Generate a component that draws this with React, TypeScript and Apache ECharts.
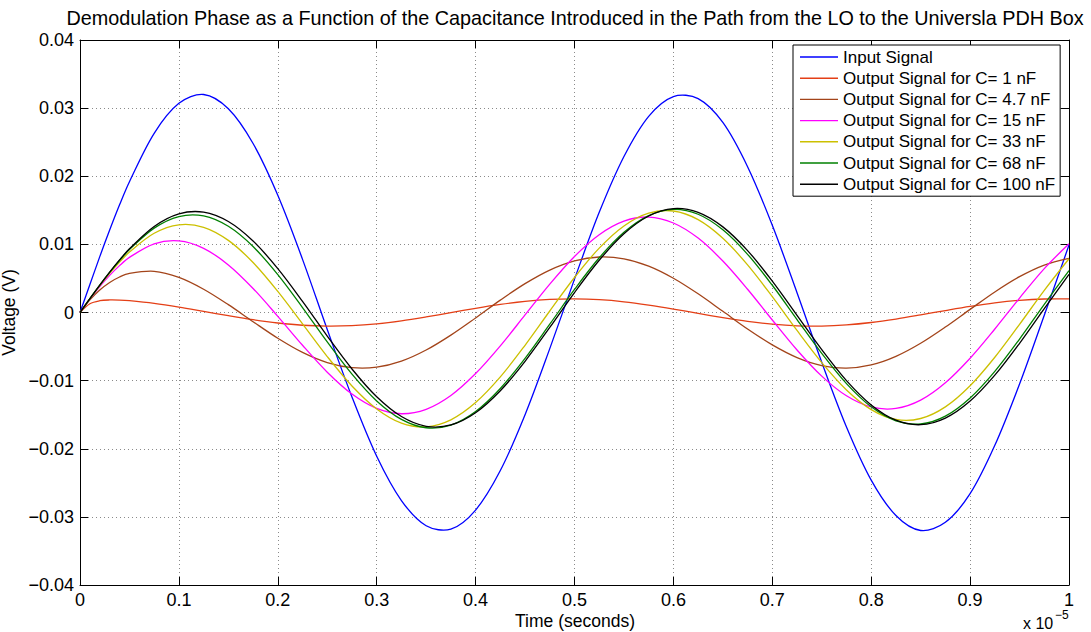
import React, { useEffect, useRef } from "react";
import * as echarts from "echarts";

// Time axis samples (units of 1e-5 s)
const timeValues = [
  0, 0.01, 0.02, 0.03, 0.04, 0.05, 0.075, 0.1, 0.125, 0.15, 0.175, 0.2, 0.225, 0.25, 0.275, 0.3,
  0.325, 0.35, 0.375, 0.4, 0.425, 0.45, 0.475, 0.5, 0.525, 0.55, 0.575, 0.6, 0.625, 0.65, 0.675,
  0.7, 0.725, 0.75, 0.775, 0.8, 0.825, 0.85, 0.875, 0.9, 0.925, 0.95, 0.975, 1.0,
];

const inputSignal = [
  0, 0.0041, 0.0082, 0.0121, 0.0158, 0.0192, 0.0263, 0.0307, 0.032, 0.0299, 0.0248, 0.0172, 0.0078,
  -0.0025, -0.0124, -0.0211, -0.0276, -0.0313, -0.0318, -0.029, -0.0232, -0.015, -0.0053, 0.0049,
  0.0147, 0.0229, 0.0288, 0.0317, 0.0314, 0.0279, 0.0214, 0.0128, 0.0029, -0.0073, -0.0168, -0.0246,
  -0.0298, -0.032, -0.0308, -0.0266, -0.0195, -0.0105, -0.0004, 0.0099,
];

const outC1 = [
  0, 0.00129, 0.00173, 0.00184, 0.00182, 0.00173, 0.00134, 0.0008, 0.00017, -0.00047, -0.00106,
  -0.00154, -0.00187, -0.002, -0.00193, -0.00166, -0.00122, -0.00065, -0.00002, 0.00062, 0.00119,
  0.00164, 0.00192, 0.002, 0.00188, 0.00157, 0.00109, 0.00051, -0.00014, -0.00076, -0.00131,
  -0.00172, -0.00196, -0.00199, -0.00182, -0.00147, -0.00096, -0.00035, 0.00029, 0.0009, 0.00142,
  0.00179, 0.00198, 0.00199,
];

const outC4_7 = [
  0, 0.00185, 0.0033, 0.00441, 0.00521, 0.00574, 0.00604, 0.00516, 0.00342, 0.00115, -0.00135,
  -0.00378, -0.00586, -0.00735, -0.0081, -0.00803, -0.00714, -0.00551, -0.00332, -0.0008, 0.00182,
  0.00424, 0.00623, 0.00758, 0.00815, 0.00788, 0.00681, 0.00503, 0.00274, 0.00017, -0.00242,
  -0.00476, -0.00662, -0.00779, -0.00816, -0.0077, -0.00644, -0.00452, -0.00214, 0.00046, 0.00302,
  0.00526, 0.00696, 0.00795,
];

const outC15 = [
  0, 0.00199, 0.00381, 0.00545, 0.00688, 0.00809, 0.01008, 0.01051, 0.00942, 0.00699, 0.00353,
  -0.00056, -0.00481, -0.00876, -0.01197, -0.01408, -0.01486, -0.01421, -0.01218, -0.00896,
  -0.00489, -0.00036, 0.00417, 0.00823, 0.01142, 0.01341, 0.01401, 0.01314, 0.01092, 0.00755,
  0.00341, -0.0011, -0.0055, -0.00934, -0.01223, -0.01387, -0.01408, -0.01286, -0.01031, -0.00671,
  -0.00242, 0.00212, 0.00644, 0.01009,
];

const outC33 = [
  0, 0.00202, 0.00395, 0.00575, 0.0074, 0.00887, 0.01163, 0.01287, 0.01251, 0.01059, 0.00734,
  0.0031, -0.00167, -0.00647, -0.01078, -0.01415, -0.01623, -0.01678, -0.01575, -0.01322, -0.00945,
  -0.00481, 0.00022, 0.00514, 0.00945, 0.01271, 0.01459, 0.0149, 0.01363, 0.01089, 0.00699,
  0.00232, -0.00264, -0.00736, -0.01137, -0.01425, -0.0157, -0.01556, -0.01385, -0.01075, -0.00657,
  -0.00174, 0.00325, 0.00789,
];

const outC68 = [
  0, 0.00204, 0.00401, 0.00589, 0.00764, 0.00924, 0.01239, 0.01409, 0.01418, 0.01265, 0.00968,
  0.00556, 0.00073, -0.00432, -0.00905, -0.01298, -0.01569, -0.01692, -0.01652, -0.01453, -0.01115,
  -0.00673, -0.00172, 0.00338, 0.00803, 0.01178, 0.01423, 0.01514, 0.01442, 0.01214, 0.00854,
  0.004, -0.00103, -0.00601, -0.01044, -0.01385, -0.0159, -0.01637, -0.01522, -0.01255, -0.00864,
  -0.0039, 0.0012, 0.00614,
];

const outC100 = [
  0, 0.00204, 0.00403, 0.00593, 0.00772, 0.00935, 0.01263, 0.01448, 0.01473, 0.01335, 0.01049,
  0.00644, 0.00163, -0.00346, -0.00829, -0.01237, -0.01527, -0.0167, -0.01651, -0.01471, -0.01148,
  -0.00716, -0.00219, 0.00293, 0.00767, 0.01155, 0.01416, 0.01525, 0.0147, 0.01257, 0.00909,
  0.0046, -0.00042, -0.00546, -0.01, -0.01357, -0.01581, -0.01647, -0.0155, -0.013, -0.0092,
  -0.00452, 0.00058, 0.00558,
];

const seriesNames = [
  "Input Signal",
  "Output Signal for C= 1 nF",
  "Output Signal for C= 4.7 nF",
  "Output Signal for C= 15 nF",
  "Output Signal for C= 33 nF",
  "Output Signal for C= 68 nF",
  "Output Signal for C= 100 nF",
];
const seriesValues = [inputSignal, outC1, outC4_7, outC15, outC33, outC68, outC100];
const seriesColors = ["#0000FF", "#E43F16", "#A3441A", "#FF00FF", "#CCC000", "#008000", "#000000"];

const titleText =
  "Demodulation Phase as a Function of the Capacitance Introduced in the Path from the LO to the Universla PDH Box";
const xAxisName = "Time (seconds)";
const yAxisName = "Voltage (V)";

const FONT = "'Liberation Sans', Arial, Helvetica, sans-serif";

export default function App() {
  const ref = useRef<HTMLDivElement>(null);
  useEffect(() => {
    if (!ref.current) return;
    const chart = echarts.init(ref.current, undefined, { renderer: "svg" });

    const fmtY = (v: number) => {
      if (Math.abs(v) < 1e-9) return "0";
      const s = Math.abs(v).toFixed(2);
      return v < 0 ? "\u2212" + s : s;
    };
    const fmtX = (v: number) => {
      if (Math.abs(v) < 1e-9) return "0";
      if (Math.abs(v - 1) < 1e-9) return "1";
      return v.toFixed(1);
    };

    const axisLine = { show: true, onZero: false, lineStyle: { color: "#000", width: 1 } };
    const axisTick = { show: true, inside: true, length: 8, lineStyle: { color: "#000", width: 1 } };
    const split = { show: true, lineStyle: { color: "#8a8a8a", width: 1, type: [1, 3] } };
    const labelStyle = { color: "#000", fontSize: 18, fontFamily: FONT };

    chart.setOption({
      animation: false,
      backgroundColor: "#fff",
      grid: {
        left: 80,
        top: 40,
        width: 989,
        height: 545,
        show: false,
        containLabel: false,
        outerBoundsMode: "none",
      },
      xAxis: [
        {
          type: "value",
          min: 0,
          max: 1,
          interval: 0.1,
          position: "bottom",
          axisLine,
          axisTick,
          splitLine: split,
          axisLabel: { ...labelStyle, margin: 6, formatter: fmtX },
        },
        {
          type: "value",
          min: 0,
          max: 1,
          interval: 0.1,
          position: "top",
          axisLine,
          axisTick,
          splitLine: { show: false },
          axisLabel: { show: false },
        },
      ],
      yAxis: [
        {
          type: "value",
          min: -0.04,
          max: 0.04,
          interval: 0.01,
          position: "left",
          axisLine,
          axisTick,
          splitLine: split,
          axisLabel: { ...labelStyle, margin: 6, formatter: fmtY },
          name: yAxisName,
          nameLocation: "middle",
          nameGap: 56,
          nameRotate: 90,
          nameTextStyle: { color: "#000", fontSize: 17.5, fontFamily: FONT },
        },
        {
          type: "value",
          min: -0.04,
          max: 0.04,
          interval: 0.01,
          position: "right",
          axisLine,
          axisTick,
          splitLine: { show: false },
          axisLabel: { show: false },
        },
      ],
      legend: {
        data: seriesNames,
        orient: "vertical",
        left: 793,
        top: 45,
        icon: "rect",
        itemWidth: 38,
        itemHeight: 1.4,
        itemGap: 3.2,
        padding: [3, 5, 3, 7],
        borderColor: "#000",
        borderWidth: 1,
        borderRadius: 0,
        backgroundColor: "#fff",
        selectedMode: false,
        textStyle: { color: "#000", fontSize: 17, fontFamily: FONT, lineHeight: 18 },
      },
      graphic: [
        {
          type: "text",
          x: 575,
          y: 18,
          style: {
            text: titleText,
            font: "19.8px " + FONT,
            fill: "#000",
            textAlign: "center",
            textVerticalAlign: "middle",
          },
        },
        {
          type: "text",
          x: 575,
          y: 621,
          style: {
            text: xAxisName,
            font: "17.5px " + FONT,
            fill: "#000",
            textAlign: "center",
            textVerticalAlign: "middle",
          },
        },
        {
          type: "text",
          x: 1023,
          y: 623,
          style: {
            text: "x 10",
            font: "16px " + FONT,
            fill: "#000",
            textAlign: "left",
            textVerticalAlign: "middle",
          },
        },
        {
          type: "text",
          x: 1055,
          y: 615,
          style: {
            text: "\u22125",
            font: "12px " + FONT,
            fill: "#000",
            textAlign: "left",
            textVerticalAlign: "middle",
          },
        },
      ],
      series: seriesNames.map((name, i) => ({
        name,
        type: "custom",
        coordinateSystem: "cartesian2d",
        data: [[timeValues[0], seriesValues[i][0]]],
        encode: { x: 0, y: 1 },
        silent: true,
        clip: false,
        itemStyle: { color: seriesColors[i] },
        renderItem: (_params: any, api: any) => ({
          type: "polyline",
          shape: {
            points: timeValues.map((t, k) => api.coord([t, seriesValues[i][k]])),
            smooth: 0.33,
          },
          style: { stroke: seriesColors[i], fill: "none", lineWidth: 1.3 },
        }),
      })),
    });
    return () => chart.dispose();
  }, []);

  return (
    <div
      ref={ref}
      style={{ position: "absolute", left: 0, top: 0, width: 1091, height: 632, background: "#fff" }}
    />
  );
}
